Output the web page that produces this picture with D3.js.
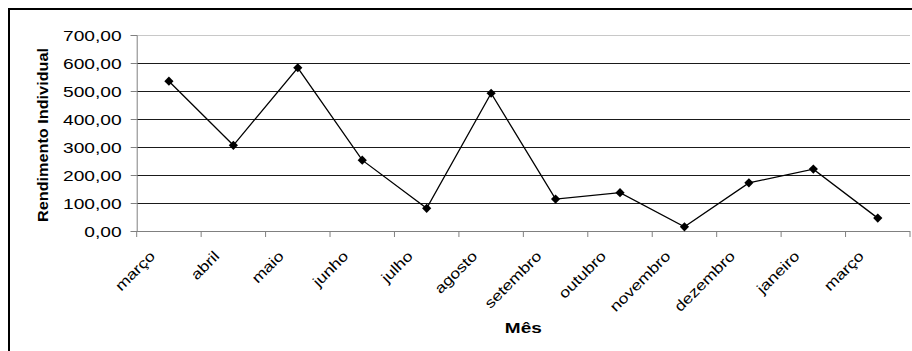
<!DOCTYPE html>
<html>
<head>
<meta charset="utf-8">
<script src="https://cdn.jsdelivr.net/npm/d3@7"></script>
<style>
  html, body { margin: 0; padding: 0; background: #fff; }
  svg { display: block; font-family: "Liberation Sans", Arial, sans-serif; }
</style>
</head>
<body>
<svg id="chart" width="912" height="351"></svg>
<script>
// Monthly individual yield
const months = ["março", "abril", "maio", "junho", "julho", "agosto", "setembro",
                "outubro", "novembro", "dezembro", "janeiro", "março"];
const rendimento = [535, 306, 583, 253, 81, 492, 114, 137, 15, 172, 221, 46];
const yTicks = [0, 100, 200, 300, 400, 500, 600, 700];

const svg = d3.select("#chart");
const plot = { left: 136.7, right: 910, top: 35, bottom: 231 };

// Stretch text horizontally along its baseline
function widen(sel, factor) {
  sel.each(function () {
    const len = this.getComputedTextLength();
    d3.select(this)
      .attr("textLength", len * factor)
      .attr("lengthAdjust", "spacingAndGlyphs");
  });
}

// Outer frame
svg.append("rect")
  .attr("x", 9).attr("y", 9)
  .attr("width", 930).attr("height", 370)
  .attr("fill", "none").attr("stroke", "#000").attr("stroke-width", 2);

const x = d3.scaleBand()
  .domain(d3.range(months.length))
  .range([plot.left, plot.right])
  .paddingInner(0).paddingOuter(0);

const y = d3.scaleLinear().domain([0, 700]).range([plot.bottom, plot.top]);

// Horizontal gridlines
svg.append("g")
  .selectAll("line")
  .data(yTicks.filter(d => d > 0))
  .join("line")
  .attr("x1", plot.left).attr("x2", plot.right)
  .attr("y1", d => Math.round(y(d)) + 0.5).attr("y2", d => Math.round(y(d)) + 0.5)
  .attr("stroke", d => d === 700 ? "#c8c8c8" : "#1a1a1a")
  .attr("stroke-width", 1);

// Y axis
const yAxis = svg.append("g")
  .attr("transform", `translate(${plot.left},0)`)
  .call(d3.axisLeft(y).tickValues(yTicks).tickSize(6).tickPadding(9)
        .tickFormat(d => d3.format(".2f")(d).replace(".", ",")));
yAxis.select(".domain").attr("stroke", "#808080");
yAxis.selectAll(".tick line").attr("stroke", "#808080");
yAxis.selectAll(".tick text")
  .attr("fill", "#000")
  .attr("font-size", 14)
  .attr("dy", "0.36em")
  .call(widen, 1.37);

// X axis: ticks on category boundaries
const xAxisG = svg.append("g");
xAxisG.append("line")
  .attr("x1", plot.left).attr("x2", plot.right)
  .attr("y1", plot.bottom + 0.5).attr("y2", plot.bottom + 0.5)
  .attr("stroke", "#808080");
xAxisG.selectAll("line.tick")
  .data(d3.range(months.length + 1))
  .join("line")
  .attr("class", "tick")
  .attr("x1", i => i < months.length ? x(i) : plot.right)
  .attr("x2", i => i < months.length ? x(i) : plot.right)
  .attr("y1", plot.bottom).attr("y2", plot.bottom + 6)
  .attr("stroke", "#808080");

xAxisG.selectAll("text")
  .data(months)
  .join("text")
  .attr("transform", (d, i) =>
    `translate(${x(i) + x.bandwidth() / 2 - 13},${plot.bottom + 26}) rotate(-45)`)
  .attr("text-anchor", "end")
  .attr("font-size", 14.5)
  .attr("fill", "#000")
  .text(d => d)
  .call(widen, 1.22);

// Line series
const cx = i => x(i) + x.bandwidth() / 2;
svg.append("path")
  .datum(rendimento)
  .attr("fill", "none")
  .attr("stroke", "#000")
  .attr("stroke-width", 1.3)
  .attr("d", d3.line().x((d, i) => cx(i)).y(d => y(d)));

// Diamond markers
const r = 4.6;
svg.append("g")
  .selectAll("path")
  .data(rendimento)
  .join("path")
  .attr("transform", (d, i) => `translate(${cx(i)},${y(d)})`)
  .attr("d", `M0,${-r}L${r},0L0,${r}L${-r},0Z`)
  .attr("fill", "#000");

// Axis titles
svg.append("text")
  .attr("transform", `translate(48,${(plot.top + plot.bottom) / 2 + 2}) rotate(-90)`)
  .attr("text-anchor", "middle")
  .attr("font-size", 15)
  .attr("font-weight", "bold")
  .attr("textLength", 174)
  .attr("lengthAdjust", "spacingAndGlyphs")
  .text("Rendimento Individual");

svg.append("text")
  .attr("x", (plot.left + plot.right) / 2)
  .attr("y", 333)
  .attr("text-anchor", "middle")
  .attr("font-size", 15)
  .attr("font-weight", "bold")
  .attr("textLength", 37)
  .attr("lengthAdjust", "spacingAndGlyphs")
  .text("Mês");
</script>
</body>
</html>
